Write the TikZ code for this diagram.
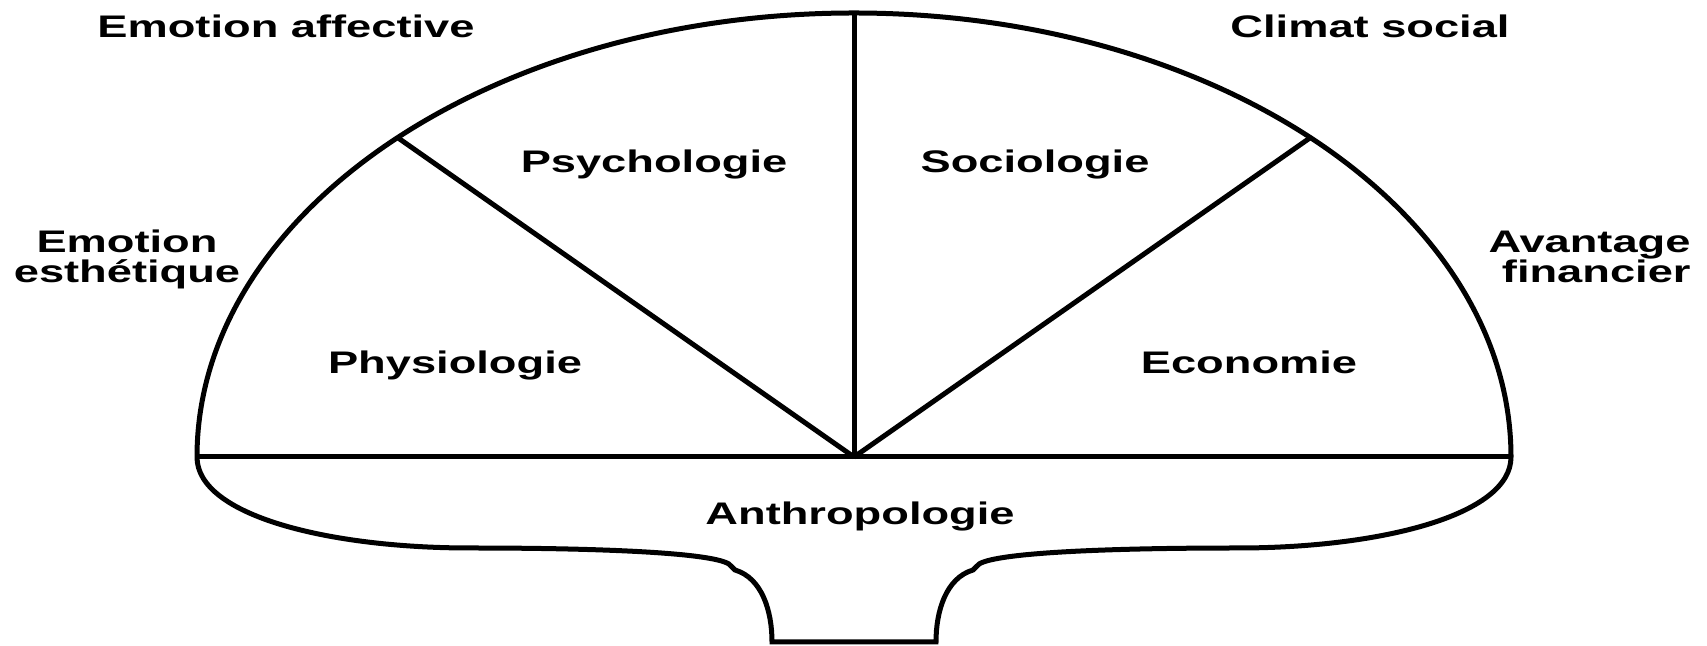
\documentclass[tikz,border=0pt]{standalone}
\usepackage{fontspec}
\newfontfamily\lblfont[FakeStretch=1.45]{Liberation Sans}
\usetikzlibrary{calc}

\begin{document}
\begin{tikzpicture}[x=0.5pt, y=0.5pt, line width=2.5pt,
    lbl/.style={font=\lblfont\bfseries\fontsize{15.6}{15}\selectfont, anchor=base, inner sep=0pt}]
    \useasboundingbox (0,0) rectangle (1707,646);

    %mark points on the fan
        \coordinate[] (O) at (854,189);
        \coordinate[] (L) at (197,189);
        \coordinate[] (R) at (1511,189);
        \coordinate[] (T) at (854,633);
        \coordinate[] (A) at ($(O)+(134:657 and 444)$);
        \coordinate[] (B) at ($(O)+(46:657 and 444)$);
        \coordinate[] (S1) at (772,4);
        \coordinate[] (S2) at (936,4);

    %draw half ellipse and radii
        \draw (L) arc[start angle=180, end angle=0, x radius=657, y radius=444];
        \draw (L) -- (R);
        \draw (O) -- (T);
        \draw (O) -- (A);
        \draw (O) -- (B);

    %draw stem below
        \draw (L) .. controls (197,130) and (330,98) .. (470,98)
                  .. controls (620,98) and (724,92) .. (731,80) -- (735,76)
                  .. controls (762,68) and (772,35) .. (S1)
              -- (S2) .. controls (936,35) and (946,68) .. (973,76) -- (977,80)
                  .. controls (984,92) and (1088,98) .. (1238,98)
                  .. controls (1378,98) and (1511,130) .. (R);

    %labels
        \node[lbl] (psy) at (654,473) {Psychologie};
        \node[lbl] (soc) at (1035,473) {Sociologie};
        \node[lbl] (phy) at (455,272) {Physiologie};
        \node[lbl] (eco) at (1249,272) {Economie};
        \node[lbl] (ant) at (860,121) {Anthropologie};
        \node[lbl] (emoa) at (286,608) {Emotion affective};
        \node[lbl] (clim) at (1370,608) {Climat social};
        \node[lbl, align=center] (emoe) at (127,363) {Emotion\\esthétique};
        \node[lbl, align=right, anchor=base east] (avan) at (1693,363) {Avantage\\financier};
\end{tikzpicture}
\end{document}
